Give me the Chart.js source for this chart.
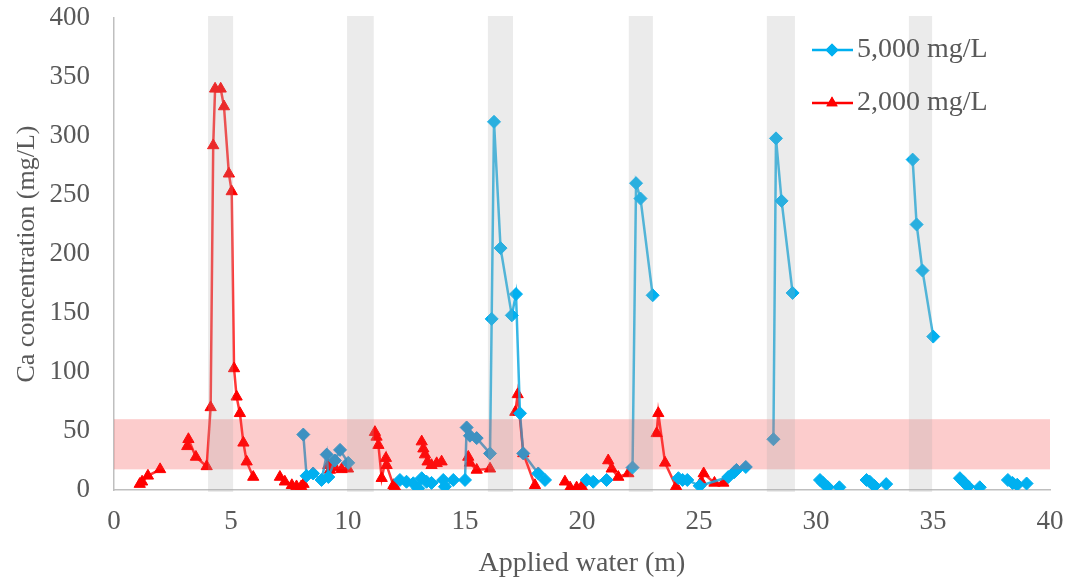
<!DOCTYPE html>
<html>
<head>
<meta charset="utf-8">
<script src="https://cdn.jsdelivr.net/npm/chart.js@4.4.1/dist/chart.umd.min.js"></script>
<style>
  html, body { margin: 0; padding: 0; background: #fff; }
  #wrap { width: 1070px; height: 580px; }
</style>
</head>
<body>
<div id="wrap"><canvas id="caChart"></canvas></div>
<script>
// ===== DATA (null = break in the line) =====
const blueX = [8.09, 8.23, 8.51, 8.87, 9.09, 9.16, 9.44, 9.66, 10.01, null,
  12.22, 12.5, 12.79, 13.0, 13.15, 13.36, 13.57, 14.07, 14.14, 14.5, 15.0, 15.07, 15.21, 15.5,
  16.07, 16.14, 16.24, 16.52, 17.0, 17.18, 17.35, 17.49, 18.13, 18.42, null,
  20.2, 20.48, 21.05, null,
  22.16, 22.31, 22.5, 23.02, null,
  24.12, 24.3, 24.5, 25.03, 26.25, 26.5, 26.6, 27.0, null,
  28.18, 28.29, 28.53, 29.0, null,
  30.17, 30.3, 30.5, 31.0, null,
  32.16, 32.3, 32.5, 33.0, null,
  34.13, 34.3, 34.55, 35.01, null,
  36.15, 36.3, 36.5, 37.0, null,
  38.2, 38.4, 38.6, 39.0];
const blueY = [47, 12, 14, 8.5, 30, 11, 25, 34, 23, null,
  8.5, 7, 5.7, 1.4, 10, 7, 6, 8.5, 2.8, 8.5, 8.5, 53, 46, 44,
  31, 145, 312, 205, 148, 166, 65, 31, 14, 8.5, null,
  8.5, 7, 8.5, null,
  19, 260, 247, 165, null,
  10, 8.5, 8.5, 3.5, 11, 15, 17, 19.5, null,
  43, 298, 245, 167, null,
  8.5, 6, 2.5, 2.3, null,
  8.5, 7, 3.4, 5, null,
  280, 225, 186, 130, null,
  10, 7, 3, 2.3, null,
  8.5, 6, 4.5, 5.5];

const redX = [1.1, 1.2, 1.45, 1.97, null,
  3.13, 3.18, 3.5, 3.96, 4.13, 4.24, 4.32, 4.56, 4.7, 4.91, 5.03, 5.13, 5.24, 5.38, 5.53, 5.67, 5.95, null,
  7.09, 7.3, 7.6, 7.8, 8.0, 8.1, null,
  9.16, 9.23, 9.44, 9.73, 10.0, null,
  11.15, 11.22, 11.3, 11.44, 11.62, 11.65, 11.94, 12.0, null,
  13.15, 13.22, 13.29, 13.4, 13.57, 13.79, 14.0, null,
  15.14, 15.21, 15.5, 16.07, null,
  17.15, 17.25, 17.49, 17.99, null,
  19.27, 19.49, 19.77, 19.99, null,
  21.12, 21.27, 21.55, 21.98, null,
  23.19, 23.26, 23.55, 24.02, null,
  25.1, 25.2, 25.66, 26.04];
const redY = [5, 7, 12, 17.5, null,
  37, 43, 28, 20, 70, 292, 340, 340, 325, 268, 253, 103, 79, 65, 40, 24, 11, null,
  11, 7, 4, 3, 3, 5, null,
  21, 17, 19, 17.5, 18, null,
  49, 45, 38, 10, 27, 21, 4, 3, null,
  41, 35, 30, 24, 21, 22.6, 24, null,
  28, 23, 17, 18, null,
  66, 81, 31, 4, null,
  7, 2, 2, 3, null,
  25, 18, 11, 14, null,
  48, 65, 23, 3, null,
  7, 14, 6, 6];

// grey bars: x ranges (m), pink band: y range (mg/L)
const greyBands = [[4.02, 5.09], [9.96, 11.1], [15.98, 17.05], [22.0, 23.03], [27.9, 29.1], [33.97, 34.96]];
const pinkBand = [17.5, 60];

const xTicks = [0, 40, 5];
const yTicks = [0, 400, 50];

const seriesNames = ['5,000 mg/L', '2,000 mg/L'];

// ===== HELPERS =====
function toPoints(xs, ys) {
  return xs.map((x, i) => ({ x: x, y: ys[i] }));
}

const TEXT = '#595959';
const SERIF = '"Liberation Serif", "Times New Roman", serif';

// bands are laid over the marks, like in the original picture
const bandsPlugin = {
  id: 'bands',
  afterDatasetsDraw(chart) {
    const { ctx, chartArea, scales: { x, y } } = chart;
    ctx.save();
    ctx.fillStyle = 'rgba(243,51,51,0.25)';
    const yTop = y.getPixelForValue(pinkBand[1]);
    const yBot = y.getPixelForValue(pinkBand[0]);
    ctx.fillRect(chartArea.left, yTop, chartArea.right - chartArea.left, yBot - yTop);
    ctx.fillStyle = 'rgba(170,170,170,0.24)';
    greyBands.forEach(b => {
      const x0 = x.getPixelForValue(b[0]);
      const x1 = x.getPixelForValue(b[1]);
      ctx.fillRect(x0, y.getPixelForValue(400) - 2, x1 - x0, y.getPixelForValue(0) - y.getPixelForValue(400) + 4);
    });
    ctx.restore();
  }
};

// legend drawn inside the plot, top right
const legendPlugin = {
  id: 'insideLegend',
  afterDraw(chart) {
    const { ctx } = chart;
    ctx.save();
    chart.data.datasets.forEach((ds, i) => {
      const yy = 50 + i * 53;
      ctx.strokeStyle = ds.pointBackgroundColor;
      ctx.lineWidth = 2.5;
      ctx.beginPath();
      ctx.moveTo(812, yy);
      ctx.lineTo(853, yy);
      ctx.stroke();
      ctx.fillStyle = ds.pointBackgroundColor;
      Chart.helpers.drawPoint(ctx, { pointStyle: ds.pointStyle, radius: 6.5, borderWidth: 0 }, 832, yy);
      ctx.fill();
      ctx.fillStyle = TEXT;
      ctx.font = '28px ' + SERIF;
      ctx.textBaseline = 'middle';
      ctx.fillText(ds.label, 857, yy);
    });
    ctx.restore();
  }
};

new Chart(document.getElementById('caChart'), {
  type: 'line',
  data: {
    datasets: [
      {
        label: seriesNames[0],
        data: toPoints(blueX, blueY),
        borderColor: 'rgba(20,170,225,0.85)',
        borderWidth: 2.5,
        pointStyle: 'rectRot',
        pointRadius: 6.5,
        pointBackgroundColor: '#00B0F0',
        pointBorderColor: '#00B0F0',
        pointBorderWidth: 1,
        tension: 0,
        spanGaps: false
      },
      {
        label: seriesNames[1],
        data: toPoints(redX, redY),
        borderColor: 'rgba(255,20,20,0.85)',
        borderWidth: 2.5,
        pointStyle: 'triangle',
        pointRadius: 6.5,
        pointBackgroundColor: '#FF0000',
        pointBorderColor: '#FF0000',
        pointBorderWidth: 1,
        tension: 0,
        spanGaps: false
      }
    ]
  },
  options: {
    responsive: true,
    maintainAspectRatio: false,
    animation: false,
    layout: { autoPadding: false, padding: { top: 18, right: 20, left: 12, bottom: 0 } },
    plugins: {
      legend: { display: false },
      tooltip: { enabled: false }
    },
    scales: {
      x: {
        type: 'linear',
        min: xTicks[0],
        max: xTicks[1],
        grid: { display: false, drawTicks: false },
        border: { display: true, color: '#BFBFBF', width: 1.5 },
        ticks: { stepSize: xTicks[2], color: TEXT, padding: 16, font: { family: SERIF, size: 27 } },
        title: {
          display: true,
          text: 'Applied water (m)',
          color: TEXT,
          padding: { top: 6, bottom: 0 },
          font: { family: SERIF, size: 28 }
        },
        afterFit(scale) {
          scale.height = 90;
          scale.paddingLeft = 0;
          scale.paddingRight = 0;
        }
      },
      y: {
        min: yTicks[0],
        max: yTicks[1],
        grid: { display: false, drawTicks: false },
        border: { display: true, color: '#BFBFBF', width: 1.5 },
        ticks: { stepSize: yTicks[2], color: TEXT, padding: 24, font: { family: SERIF, size: 27 } },
        title: {
          display: true,
          text: 'Ca concentration (mg/L)',
          color: TEXT,
          padding: { top: 0, bottom: 4 },
          font: { family: SERIF, size: 26 }
        },
        afterFit(scale) {
          scale.width = 102;
          scale.paddingTop = 0;
          scale.paddingBottom = 0;
        }
      }
    }
  },
  plugins: [bandsPlugin, legendPlugin]
});
</script>
</body>
</html>
